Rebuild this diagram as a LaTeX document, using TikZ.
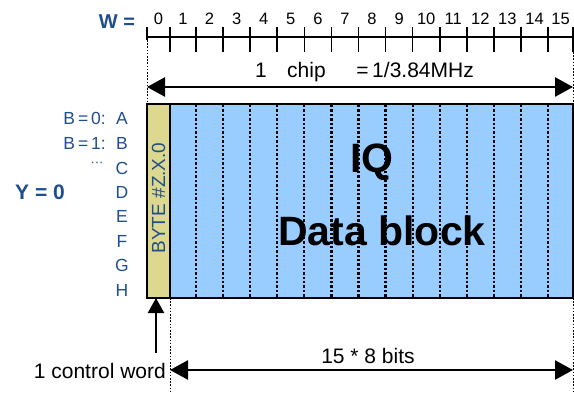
\documentclass[tikz,border=0pt]{standalone}
\usepackage{fontspec}
\setmainfont{Liberation Sans}
\usetikzlibrary{arrows.meta}
\definecolor{dkblue}{HTML}{1F4E8C}
\definecolor{iqblue}{HTML}{99CCFF}
\definecolor{ctrlyel}{HTML}{DCD890}
\begin{document}
\begin{tikzpicture}[x=1pt,y=-1pt,
  rulerline/.style={line width=1.6pt},
  guide/.style={line width=0.9pt, dash pattern=on 1.6pt off 1.6pt},
  cellsep/.style={line width=2.2pt, dash pattern=on 2.4pt off 2pt},
  dimarrow/.style={{Triangle[length=18pt,width=19pt]}-{Triangle[length=18pt,width=19pt]}, line width=2.6pt},
  ptrarrow/.style={-{Triangle[length=15pt,width=16pt]}, line width=2.2pt},
  dimtext/.style={font=\fontsize{21}{24}\selectfont, inner sep=0pt},
  sidelab/.style={font=\fontsize{17.5}{19}\selectfont, text=dkblue, inner sep=0pt},
  boldlab/.style={font=\bfseries\fontsize{21}{24}\selectfont, text=dkblue, inner sep=0pt},
  bigtext/.style={font=\bfseries\fontsize{41}{46}\selectfont, inner sep=0pt}
]
\useasboundingbox (0,0) rectangle (574,394);

% block
\node[name=iq, fill=iqblue, minimum width=403pt, minimum height=194pt, anchor=north west, inner sep=0pt, outer sep=0pt] at (170,104) {};
\node[name=ctrl, fill=ctrlyel, minimum width=23pt, minimum height=194pt, anchor=north west, inner sep=0pt, outer sep=0pt] at (147,104) {};
\node[name=byte, rotate=90, font=\fontsize{19}{21}\selectfont, text=dkblue, inner sep=0pt] at (158.5,198) {BYTE \#Z.X.0};
\node[name=iqt, bigtext] at (372,162) {IQ};
\node[name=dbt, bigtext] at (382,231) {Data block};

% cell separators
\foreach \i in {2,...,15} {
  \pgfmathsetmacro\xx{196+27.08*(\i-2)}
  \draw[cellsep] (\xx,105) -- (\xx,297);
}
\draw[line width=1.4pt] (ctrl.north west) rectangle (iq.south east);
\draw[line width=1.4pt] (ctrl.north east) -- (ctrl.south east);

% ruler
\node[name=wlab, font=\bfseries\fontsize{20}{22}\selectfont, text=dkblue, inner sep=0pt] at (117,22) {W =};
\coordinate (r0) at (147,37);
\coordinate (r16) at (573,37);
\draw[rulerline] (r0) -- (r16);
\draw[rulerline] (147,27) -- (147,40);
\draw[rulerline] (573,27) -- (573,52);
\draw[rulerline] (170,27) -- (170,52);
\foreach \i in {2,...,15} {
  \pgfmathsetmacro\xx{196+27.08*(\i-2)}
  \draw[rulerline] (\xx,27) -- (\xx,52);
}
\foreach \i in {0,...,15} {
  \pgfmathsetmacro\xa{\i==0 ? 147 : (\i==1 ? 170 : 196+27.08*(\i-2))}
  \pgfmathsetmacro\xb{\i==15 ? 573 : (\i==0 ? 170 : 196+27.08*(\i-1))}
  \pgfmathsetmacro\xm{(\xa+\xb)/2}
  \node[font=\fontsize{16.5}{18}\selectfont, inner sep=0pt] (lab\i) at (\xm,19) {\i};
}

% guides
\draw[guide] (147,40) -- (ctrl.north west);
\draw[guide] (573,52) -- (iq.north east);
\coordinate (gb1) at (170,394);
\coordinate (gb2) at (573,394);
\draw[guide] (ctrl.south east) -- (gb1);
\draw[guide] (iq.south east) -- (gb2);

% chip arrow
\coordinate (chipL) at (147,87);
\coordinate (chipR) at (573,87);
\draw[dimarrow] (chipL) -- (chipR);
\node[dimtext, anchor=base] (c1) at (261,77) {1};
\node[dimtext, anchor=base west] (c2) at (287,77) {chip};
\node[dimtext, anchor=base east] (c3) at (474,77) {=\,1/3.84MHz};

% left labels
\node[boldlab] (ylab) at (40,192) {Y = 0};
\foreach \n/\l/\y in {a/A/118, b/B/143, c/C/168, d/D/192, e/E/216.5, f/F/241, g/G/265.5, h/H/290} {
  \node[sidelab] (l\n) at (122,\y) {\l};
}
\node[sidelab, anchor=east] (b0) at (106,118) {B\,=\,0:};
\node[sidelab, anchor=east] (b1) at (106,143) {B\,=\,1:};
\node[sidelab, font=\fontsize{13}{14}\selectfont, anchor=base] (bdots) at (97,166) {···};

% bottom
\coordinate (cwtail) at (156,353);
\draw[ptrarrow] (cwtail) -- (cwtail |- ctrl.south);
\node[dimtext, anchor=base east] (cw) at (166,378) {1 control word};
\coordinate (bitL) at (170,370);
\coordinate (bitR) at (573,370);
\draw[dimarrow] (bitL) -- (bitR);
\node[dimtext, anchor=base] (bits) at (368,363) {15 * 8 bits};
\end{tikzpicture}
\end{document}
